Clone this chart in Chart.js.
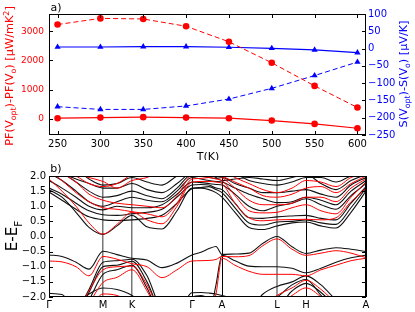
<!DOCTYPE html>
<html>
<head>
<meta charset="utf-8">
<script src="https://cdn.jsdelivr.net/npm/chart.js@4.4.1/dist/chart.umd.min.js"></script>
<style>
  html, body { margin: 0; padding: 0; background: #fff; }
  #wrap { position: relative; width: 415px; height: 312px; }
  #ca { position: absolute; left: 0; top: 0; }
  #cb { position: absolute; left: 0; top: 160px; }
</style>
</head>
<body>
<div id="wrap">
  <canvas id="ca" width="415" height="160"></canvas>
  <canvas id="cb" width="415" height="152"></canvas>
</div>
<script>
// ---- panel a) data ----
const temps = [250, 300, 350, 400, 450, 500, 550, 600];
const pfSolid = [25, 45, 60, 45, 25, -55, -170, -320];
const pfDashed = [3230, 3440, 3420, 3170, 2640, 1920, 1130, 390];
const sSolid = [4.6, 4.6, 5.5, 5.5, 3.8, 0.8, -4, -11.8];
const sDashed = [-168, -176, -176, -166, -146, -115, -78, -39];
const pfTicks = [0, 1000, 2000, 3000];

// ---- panel b) band structure data ----
const kDist = [0, 13, 27, 40, 54, 68, 83, 98, 113, 128, 143, 152, 160, 167, 173, 186, 200, 214, 228, 243, 257, 272, 287, 302, 317];
const kTicks = [0, 54, 83, 143, 173, 228, 257, 317];
const kLabels = ['Γ', 'M', 'K', 'Γ', 'A', 'L', 'H', 'A'];

const blackV1 = [-0.61,-0.66,-0.85,-1.08,-0.49,-0.6,-0.72,-0.78,-1.03,-0.88,-0.61,-0.52,-0.4,-0.33,-0.59,-0.58,-0.55,-0.22,0.0,-0.34,-0.56,-0.45,-0.37,-0.42,-0.5];
const blackV2 = [-1.88,-1.92,-2.4,-1.75,-0.85,-0.8,-0.75,-1.3,-2.4,-2.5,-1.86,-1.85,-1.87,-1.9,-1.95,-2.1,-2.4,-1.9,-1.65,-1.5,-1.3,-1.6,-2.1,-2.5,-2.6];
const blackV3 = [-2.6,-2.6,-2.6,-1.85,-1.0,-0.95,-0.82,-1.5,-2.6,-2.8,-3.0,-3.0,-2.7,-1.6,-0.62,-0.8,-0.98,-1.0,-1.0,-1.05,-1.2,-1.05,-0.85,-0.7,-0.62];
const blackV4 = [-2.7,-2.7,-2.7,-2.1,-1.25,-1.1,-0.95,-1.7,-2.7,-2.8,-2.9,-2.9,-2.9,-2.8,-2.7,-2.6,-2.5,-2.3,-2.3,-1.8,-1.55,-1.85,-2.3,-2.6,-2.7];
const blackV5 = [-2.3,-2.3,-2.2,-1.9,-1.7,-1.75,-1.95,-2.4,-2.6,-2.4,-2.0,-1.95,-2.05,-2.2,-2.4,-2.5,-2.4,-2.2,-2.0,-1.6,-1.42,-1.95,-2.5,-2.7,-2.7];
const redV1 = [-0.81,-0.84,-1.0,-1.3,-0.66,-0.75,-0.9,-1.0,-1.36,-1.1,-0.81,-0.8,-0.79,-0.76,-0.66,-0.67,-0.63,-0.3,-0.08,-0.42,-0.62,-0.55,-0.47,-0.55,-0.7];
const redV2 = [-2.6,-2.6,-2.5,-1.8,-1.1,-1.0,-0.98,-1.6,-2.6,-2.8,-3.0,-3.0,-2.8,-1.9,-0.72,-0.95,-1.15,-1.25,-1.25,-1.25,-1.3,-1.1,-0.95,-0.8,-0.72];
const redV3 = [-2.7,-2.7,-2.7,-2.2,-1.52,-1.35,-1.1,-1.8,-2.7,-2.8,-2.9,-2.9,-2.9,-2.9,-2.8,-2.6,-2.5,-2.3,-1.95,-1.7,-1.45,-1.75,-2.2,-2.6,-2.7];
const redV4 = [-2.8,-2.8,-2.8,-2.4,-1.9,-1.95,-2.2,-2.6,-2.8,-2.9,-3.0,-3.0,-3.0,-3.0,-3.0,-3.0,-3.0,-2.6,-2.3,-1.95,-1.7,-2.0,-2.5,-2.8,-2.9];

const blackC1 = [1.55,1.3,0.8,0.3,0.07,0.35,0.7,0.32,0.25,0.85,1.6,1.6,1.55,1.45,1.3,0.8,0.3,0.23,0.35,0.45,0.48,0.35,0.28,0.8,1.5];
const blackC2 = [1.47,1.2,0.9,0.65,0.55,0.53,0.55,0.6,0.7,1.1,1.58,1.62,1.65,1.55,1.45,0.95,0.45,0.38,0.48,0.5,0.55,0.45,0.4,0.95,1.6];
const blackC3 = [1.6,1.4,1.1,0.85,0.72,0.7,0.75,0.8,0.9,1.3,1.7,1.72,1.7,1.6,1.55,1.1,0.62,0.6,0.65,0.68,0.7,0.6,0.55,1.1,1.65];
const blackC4 = [1.85,1.6,1.3,1.0,0.88,1.0,0.95,0.95,1.05,1.4,1.8,1.78,1.75,1.72,1.7,1.4,1.0,0.85,1.0,1.1,1.25,1.05,0.9,1.35,1.75];
const blackC5 = [2.1,1.85,1.5,1.15,1.0,1.15,1.3,1.2,1.15,1.5,1.95,1.9,1.85,1.82,1.8,1.6,1.4,1.25,1.12,1.15,1.3,1.2,1.05,1.5,1.85];
const blackC6 = [2.3,2.1,1.8,1.5,1.3,1.35,1.5,1.35,1.25,1.6,2.05,2.0,1.95,1.92,1.95,1.75,1.6,1.45,1.45,1.5,1.55,1.4,1.3,1.7,1.95];
const blackC7 = [2.0,2.1,2.2,1.9,1.7,1.75,1.95,1.8,1.7,2.0,2.2,2.1,2.0,2.05,2.05,2.05,1.85,1.75,1.7,1.8,1.95,1.95,1.8,2.0,2.1];
const blackC8 = [1.98,2.05,1.9,1.75,1.6,1.6,1.75,1.55,1.45,1.75,2.15,2.2,2.1,1.95,1.85,1.9,1.95,1.9,1.85,1.95,2.05,1.75,1.55,1.85,2.05];
const redC1 = [1.9,1.5,1.0,0.45,0.08,0.4,0.8,0.55,0.42,1.0,1.8,1.82,1.82,1.8,1.75,1.1,0.62,0.52,0.55,0.56,0.57,0.55,0.62,1.15,1.6];
const redC2 = [2.2,1.85,1.45,1.15,0.95,0.9,0.82,0.75,0.65,1.1,1.9,1.92,1.95,1.9,1.85,1.35,0.85,0.78,0.8,0.95,1.05,0.85,0.75,1.3,1.8];
const redC3 = [2.4,2.1,1.8,1.4,1.2,1.1,1.05,1.0,0.95,1.35,2.05,2.1,2.1,2.05,1.95,1.6,1.2,1.05,1.05,1.1,1.3,1.3,1.15,1.6,1.9];
const redC4 = [2.3,2.3,2.1,1.95,1.82,1.6,1.85,1.95,2.2,2.4,2.5,2.5,2.4,2.3,2.2,1.95,1.75,1.55,1.45,1.6,1.85,1.8,1.65,1.95,2.1];
const redC5 = [2.5,2.2,2.0,1.75,1.65,1.75,2.05,2.2,2.3,2.5,2.6,2.4,2.2,2.1,2.0,1.8,1.6,1.35,1.3,1.4,1.6,1.65,1.45,1.75,2.0];

const blackBands = [blackV1, blackV2, blackV3, blackV4, blackV5, blackC1, blackC2, blackC3, blackC4, blackC5, blackC6, blackC7, blackC8];
const redBands = [redV1, redV2, redV3, redV4, redC1, redC2, redC3, redC4, redC5];

const RED = '#ff0000';
const BLUE = '#0000ff';

Chart.defaults.font.family = "'DejaVu Sans', sans-serif";
Chart.defaults.font.size = 10;
Chart.defaults.color = '#000';

const minus = v => String(v).replace('-', '\u2212');

// text with sub/superscripts, optionally rotated
function richText(ctx, parts, x, y, size, color, vertical) {
  ctx.save();
  ctx.fillStyle = color;
  ctx.textBaseline = 'alphabetic';
  const fonts = parts.map(p => (p[1] ? size * 0.7 : size) + "px 'DejaVu Sans'");
  let total = 0;
  const widths = parts.map((p, i) => {
    ctx.font = fonts[i];
    const w = ctx.measureText(p[0]).width;
    total += w;
    return w;
  });
  ctx.translate(x, y);
  if (vertical) ctx.rotate(-Math.PI / 2);
  let cx = -total / 2;
  parts.forEach((p, i) => {
    ctx.font = fonts[i];
    const dy = p[1] === 'sub' ? size * 0.28 : p[1] === 'sup' ? -size * 0.4 : 0;
    ctx.fillText(p[0], cx, size * 0.36 + dy);
    cx += widths[i];
  });
  ctx.restore();
}

const frame = {
  id: 'frame',
  afterDraw(chart) {
    const a = chart.chartArea, ctx = chart.ctx;
    ctx.save();
    ctx.strokeStyle = '#000';
    ctx.lineWidth = 1;
    ctx.strokeRect(Math.round(a.left) + 0.5, Math.round(a.top) + 0.5,
      Math.round(a.right - a.left) - 1, Math.round(a.bottom - a.top) - 1);
    ctx.restore();
  }
};

// matplotlib style inward tick marks
function inTicks(list) {
  return {
    id: 'inTicks',
    afterDraw(chart) {
      const a = chart.chartArea, ctx = chart.ctx, len = 4;
      ctx.save();
      ctx.strokeStyle = '#000';
      ctx.lineWidth = 1;
      ctx.beginPath();
      list.forEach(([id, sides]) => {
        const s = chart.scales[id];
        s.ticks.forEach(t => {
          const p = Math.round(s.getPixelForValue(t.value)) + 0.5;
          if (s.isHorizontal()) {
            if (sides.includes('b')) { ctx.moveTo(p, a.bottom); ctx.lineTo(p, a.bottom - len); }
            if (sides.includes('t')) { ctx.moveTo(p, a.top); ctx.lineTo(p, a.top + len); }
          } else {
            if (sides.includes('l')) { ctx.moveTo(a.left, p); ctx.lineTo(a.left + len, p); }
            if (sides.includes('r')) { ctx.moveTo(a.right, p); ctx.lineTo(a.right - len, p); }
          }
        });
      });
      ctx.stroke();
      ctx.restore();
    }
  };
}

const labelsA = {
  id: 'labelsA',
  afterDraw(chart) {
    const ctx = chart.ctx;
    richText(ctx, [['a)']], 56, 7, 11, '#000', false);
    richText(ctx, [['T(K)']], 208, 156, 11, '#000', false);
    richText(ctx, [['PF(V'], ['opt', 'sub'], [')-PF(V'], ['o', 'sub'], [') [μW/mK'], ['2', 'sup'], [']']], 9, 76, 11.3, RED, true);
    richText(ctx, [['S(V'], ['opt', 'sub'], [')-S(V'], ['o', 'sub'], [') [μV/K]']], 403, 74, 11.2, BLUE, true);
  }
};

const labelsB = {
  id: 'labelsB',
  afterDraw(chart) {
    const ctx = chart.ctx;
    richText(ctx, [['b)']], 56, 8, 11, '#000', false);
    richText(ctx, [['E-E'], ['F', 'sub']], 12, 76, 15, '#000', true);
  }
};

const pts = (xs, ys) => xs.map((x, i) => ({ x: x, y: ys[i] }));

new Chart(document.getElementById('ca'), {
  type: 'line',
  data: {
    datasets: [
      { data: pts(temps, pfDashed), yAxisID: 'yL', borderColor: RED, backgroundColor: RED, borderDash: [5, 3], borderWidth: 1, pointStyle: 'circle', pointRadius: 3.3, pointBorderWidth: 0 },
      { data: pts(temps, pfSolid), yAxisID: 'yL', borderColor: RED, backgroundColor: RED, borderWidth: 1.2, pointStyle: 'circle', pointRadius: 3.3, pointBorderWidth: 0 },
      { data: pts(temps, sDashed), yAxisID: 'yR', borderColor: BLUE, backgroundColor: BLUE, borderDash: [5, 3], borderWidth: 1, pointStyle: 'triangle', pointRadius: 3.6, pointBorderWidth: 0 },
      { data: pts(temps, sSolid), yAxisID: 'yR', borderColor: BLUE, backgroundColor: BLUE, borderWidth: 1.2, pointStyle: 'triangle', pointRadius: 3.6, pointBorderWidth: 0 }
    ]
  },
  options: {
    responsive: false,
    animation: false,
    layout: { padding: { top: 14, left: 0, right: 0, bottom: 0 } },
    plugins: { legend: { display: false }, tooltip: { enabled: false } },
    scales: {
      x: {
        type: 'linear', min: 240, max: 610,
        afterBuildTicks: s => { s.ticks = temps.map(v => ({ value: v })); },
        afterFit: s => { s.height = 25; },
        grid: { display: false, drawTicks: false }, border: { display: false },
        ticks: { padding: 3, maxRotation: 0, font: { size: 10 }, callback: v => String(v) }
      },
      yL: {
        type: 'linear', position: 'left', min: -550, max: 3590,
        afterBuildTicks: s => { s.ticks = pfTicks.map(v => ({ value: v })); },
        afterFit: s => { s.width = 49; },
        grid: { display: false, drawTicks: false }, border: { display: false },
        ticks: { color: RED, padding: 5, font: { size: 9 }, callback: v => String(v) }
      },
      yR: {
        type: 'linear', position: 'right', min: -250, max: 100,
        afterFit: s => { s.width = 49; },
        grid: { display: false, drawTicks: false }, border: { display: false },
        ticks: { color: BLUE, padding: 2, stepSize: 50, font: { size: 10 }, callback: v => minus(v) }
      }
    }
  },
  plugins: [frame, inTicks([['x', 'bt'], ['yL', 'l'], ['yR', 'r']]), labelsA]
});

const bandSet = (band, color) => ({
  data: pts(kDist, band),
  borderColor: color,
  borderWidth: color === RED ? 1 : 1.1,
  pointRadius: 0,
  cubicInterpolationMode: 'monotone'
});

const symColors = ['#000', '#777', '#777', '#000', '#000', '#999', '#000', '#000'];
const symWidths = [1, 1.5, 1.5, 1, 1, 2, 1, 1];

new Chart(document.getElementById('cb'), {
  type: 'line',
  data: {
    datasets: [
      ...redBands.map(b => bandSet(b, RED)),
      ...blackBands.map(b => bandSet(b, '#111'))
    ]
  },
  options: {
    responsive: false,
    animation: false,
    layout: { padding: { top: 16, left: 0, right: 49, bottom: 0 } },
    plugins: { legend: { display: false }, tooltip: { enabled: false } },
    scales: {
      x: {
        type: 'linear', min: 0, max: 317,
        afterBuildTicks: s => { s.ticks = kTicks.map(v => ({ value: v })); },
        afterFit: s => { s.height = 15; },
        grid: {
          drawTicks: false,
          color: c => symColors[c.index] || '#000',
          lineWidth: c => symWidths[c.index] || 1
        },
        border: { display: false },
        ticks: { padding: 2, maxRotation: 0, autoSkip: false, font: { size: 10 }, callback: (v, i) => kLabels[i] }
      },
      y: {
        type: 'linear', min: -2, max: 2,
        afterFit: s => { s.width = 49; },
        grid: { display: false, drawTicks: false }, border: { display: false },
        ticks: { stepSize: 0.5, padding: 3, font: { size: 10 }, callback: v => minus(v.toFixed(1)) }
      }
    }
  },
  plugins: [frame, inTicks([['y', 'lr']]), labelsB]
});
</script>
</body>
</html>
